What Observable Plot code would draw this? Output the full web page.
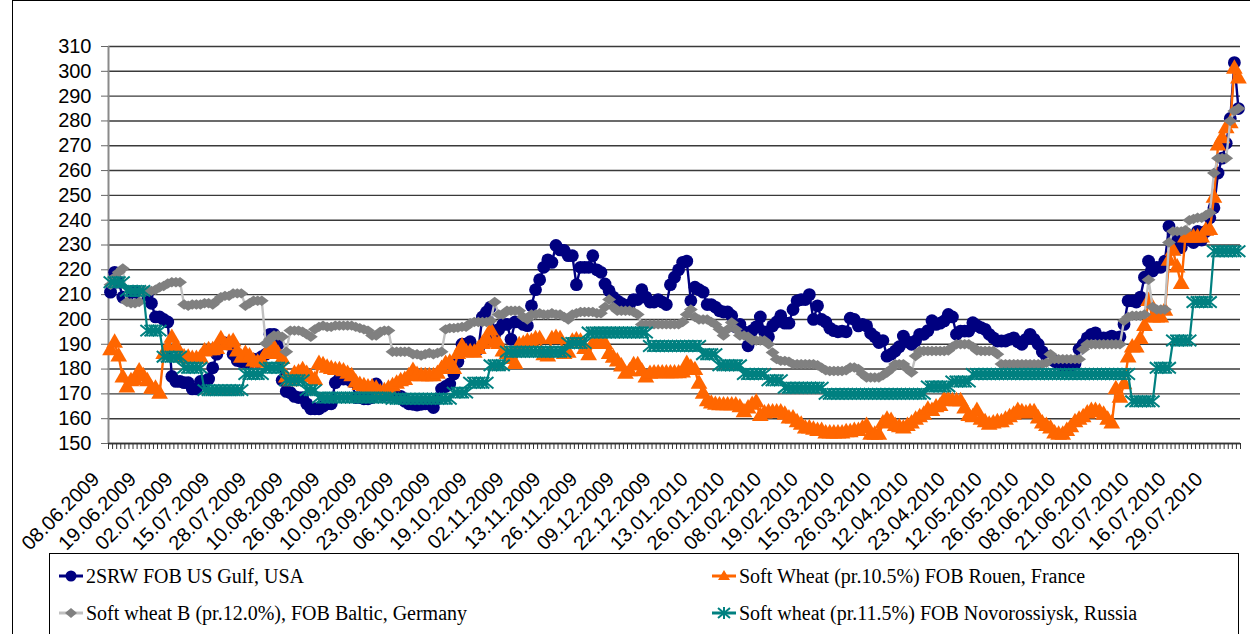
<!DOCTYPE html>
<html><head><meta charset="utf-8">
<script src="https://cdn.jsdelivr.net/npm/d3@7"></script>
<script src="https://cdn.jsdelivr.net/npm/@observablehq/plot@0.6"></script>
<style>
body{margin:0;background:#fff}
#wrap{position:relative;width:1250px;height:634px;overflow:hidden;background:#fff}
#border{position:absolute;left:12px;top:0;width:1300px;height:700px;border-left:1.5px solid #000;border-top:1px solid #000}
#chart{position:absolute;left:0;top:0}
#legend{position:absolute;left:49px;top:553px;width:1188px;height:84px;border:1.5px solid #000;background:#fff}
.item{position:absolute;display:flex;align-items:center;white-space:nowrap;height:30px;font-family:"Liberation Serif","DejaVu Serif","Times New Roman",serif;font-size:20px;color:#000}
.item span{font-family:"Liberation Serif","DejaVu Serif","Times New Roman",serif}
.item svg{margin-right:3px}
</style></head>
<body>
<div id="wrap"><div id="border"></div><div id="chart"></div><div id="legend"></div></div>
<script>
const seriesNames = ["2SRW FOB US Gulf, USA", "Soft Wheat (pr.10.5%) FOB Rouen, France", "Soft wheat B (pr.12.0%), FOB Baltic, Germany", "Soft wheat (pr.11.5%) FOB Novorossiysk, Russia"];

const tickLabels = ["08.06.2009","19.06.2009","02.07.2009","15.07.2009","28.07.2009","10.08.2009","26.08.2009","10.09.2009","23.09.2009","06.10.2009","19.10.2009","02.11.2009","13.11.2009","26.11.2009","09.12.2009","22.12.2009","13.01.2010","26.01.2010","08.02.2010","19.02.2010","15.03.2010","26.03.2010","12.04.2010","23.04.2010","12.05.2010","26.05.2010","08.06.2010","21.06.2010","02.07.2010","16.07.2010","29.07.2010"];
const labelEvery = 9;
const yTicks = [150,160,170,180,190,200,210,220,230,240,250,260,270,280,290,300,310];

const usGulf = [
211,219,215,209,209,211,211,210.5,210,210,
206.5,201,201,200,199,177,175,175,174.5,174.5,
172,172,175,175,176,180.5,186,190,190.5,190,
186,183.5,183,183,182.5,184,183,185,186,194,
194,190,175.5,171,170.5,169,168.5,168.5,166,164,
164,164,165,166,166,174.5,176,176,176,175,
168.5,168.5,168,168,168.5,174,170,169.5,169.5,169.5,
169.5,169,167,166,165.8,165.5,165.8,166,166,164.5,
168,172,173,174,178,183,190,190,191,188,
188,201,203,205,194,196,198,198,192,199,
199,198,197.5,205.5,212,216,221,224,223,229.8,
228,227.8,225.7,225.7,214,221,221,221,225.7,220,
219,214.3,211.6,209,207.5,206.5,205.5,206,208,208,
212,209,207,207,208,207,206,214,217,220,
223,223.5,207.5,213,212,211,206,206,205,203.5,
203,203,201.5,197,198,195,189.4,195.5,197,201,
195,193,197.4,199,201.5,198.5,198.5,204,207.5,208,
208,210,200,205.5,200,199,196.5,195.5,195,195.3,
195,200.5,200,197.4,198,197.4,194.4,193,190.7,191.5,
185.2,186,187.3,189,193.3,191,190,191.4,194,194,
195.5,199.5,198,198.5,199.4,202,201,194,195.3,195.3,
195.3,198.7,197.5,196.7,196,194,192.6,191.3,191.3,191.3,
192,192.6,191,190,192,194,192,190,187,185.2,
184,183.2,182,181,180.5,181,182,188,190,192.6,
194,194.6,192.6,192.6,192.6,193.3,192.6,193,198,207.5,
207.5,207,209,217,223.5,219.5,221,221,223.5,237.5,
234.5,232,229,233,232,231,235.5,232,235.5,241,
245,259,265,271,281,303.5,285];

const rouen = [
187.5,190.5,185,176.5,172.5,175,175.5,179,177,175,
172,172,170,186,188.5,192.5,189,186,184.6,184.5,
184,184,184.5,187,187.5,187.5,188,192,189.5,190.5,
191,187,184.5,186,185,183,182.5,183,186,187.5,
188.5,186,184,176.5,175,178,178.5,179.5,178,176.5,
175.5,182,181.5,180.5,180,179.5,179.5,179,178,177,
174.5,173.5,173,172.5,172.5,172,170.5,171,172,173,
174,175,175.5,177,179.2,177.5,177,177,177,177,
178,180,182,182.5,180,186,189,186.7,186.7,186.5,
188,190,192,195.5,190.5,190,187,186,184,182,
189.5,190,191,191,192,192,185.5,185,192,192.5,
192,186,186.5,191,191.5,191,188,185.5,190,190,
190,190,186,184.5,183,181,178,179,181.5,181.5,
179,176.5,178,178.2,178.2,178.2,178.2,178.2,178.2,178.2,
178.5,182,180.5,179.5,174,170,167,166,165.5,165.3,
165.3,165.3,165.3,165.3,164.5,162.5,164,165.5,166.5,161,
162,162.4,162.4,162.4,162.4,161.5,160,160,158.5,157.5,
156,156,155.5,155,155,154,154,154,154,154,
154.5,154.5,155,155,156,157,153.5,153.5,153.5,158,
159.5,159,157,156.5,156,157,158,159.5,160.5,161.5,
163.5,163,164.5,165,167.5,167.5,167,167,167,164,
161,160.5,163,159.5,158.5,157.5,158,158.5,158.5,159.5,
160.5,161.5,163,162.5,162,162.5,162.5,160,158,157,
156,154,153.5,153.5,155,156.5,158.5,159.5,160.5,162,
163,163,162.5,161.5,159.5,158,171.8,168.4,173.8,184.6,
188.6,188.6,192,197.3,207.4,200.7,200.7,200.7,203.4,223.6,
227.6,220.9,214.2,233,233,233,233,233,235.7,236,
249,270,273,277,279,301,297];

const baltic = [
214,217,219,220.5,207,206.5,206.5,207,211.5,211.5,
211.5,212,213,213.5,214.5,215,215,215,206,205.5,
206,206,206,206.5,206.5,206,207.5,209,209.5,209.5,
210.5,210.5,210.5,205.5,206.5,207.5,207.5,207.5,190.3,192,
193.5,193.5,193,187,195.5,195.5,195.5,195,194,193,
196,197,197.5,197,197,197.5,197.5,197.5,197.5,197.5,
197,196.5,196,195.5,193.5,193.5,195,195.5,195.5,187,
187,187,187,187,186,186,185.5,186,186.5,186,
186.5,187,196,196.5,196.5,196.7,197,197,198.5,199,
199,199,199,199.5,207,202,202,203.5,203.5,203.5,
203.5,201,200,202,202,202.5,202,202,202.5,202,
202,201,200,202,202.5,203,203,203,203,202.5,
202.5,205,208,205,203.5,203.5,203.5,203.5,203,202,
198,198,198,198,198,198,198,198,198,198,
199,202,204,201,200,200,200,199,198,196,
193.5,196,198.8,196,193.5,193.5,193,191.5,191.5,191.5,
191.5,190,186.7,184,183.3,183.3,183,182,182,182,
182,182,182,181.5,180.5,179.5,179.2,179.2,179.2,179.2,
179.5,180.6,180.6,180,178,176.6,176.6,176.6,176.6,177.5,
178.6,180,182,182,182,180,178.6,185.3,187.3,187.3,
187.3,187.3,187.3,187.3,187.3,187.5,189,190,190,190,
190,189,187.5,187.3,187.3,187.3,187.3,186,182,182,
182,182,182,182,182,182,182,182,182,182.5,
186,184,184,184,184,184,184,184,188,190,
190,190,190,190,190,190,190,190,199.5,201,
201.5,201.5,201.5,202,216,205,204,204,204,231,
235.5,235.5,235.5,236,240,240.5,241,241,242,243,
259,265,265,265,280,284,285];

const novorossiysk = [
215,215,215,215,211.5,211.5,211.5,211.5,211.5,195.5,
195.5,195.5,195.5,185,185,185,185,185,180.5,180.5,
180.5,180.5,180.5,171.5,171.5,171.5,171.5,171.5,171.5,171.5,
171.5,171.5,171.5,178,178,178,178,178,180.5,180.5,
180.5,180.5,180.5,175.5,175.5,175.5,175.5,175.5,171.5,171.5,
171.5,168.5,168.5,168.5,168.5,168.5,168.5,168.5,168.5,168.5,
168.5,168.5,168.5,168.5,168.5,168.5,168.5,168.5,168.5,168,
168,168,168,168,168,168,168,168,168,168,
168,168,168,168,170.5,170.5,170.5,170.5,174.5,174.5,
174.5,174.5,174.5,181.5,181.5,181.5,181.5,187,187,187,
187,187,187,187,187,187,187,187,187,187,
187,187,190.5,190.5,190.5,190.5,190.5,194.7,194.7,194.7,
194.7,194.7,194.7,194.7,194.7,194.7,194.7,194.7,194.7,194.7,
194.7,194.7,189.3,189.3,189.3,189.3,189.3,189.3,189.3,189.3,
189.3,189.3,189.3,189.3,189.3,186,186,186,186,181.5,
181.5,181.5,181.5,181.5,181.5,178,178,178,178,178,
178,175.5,175.5,175.5,175.5,172.5,172.5,172.5,172.5,172.5,
172.5,172.5,172.5,172.5,172.5,170,170,170,170,170,
170,170,170,170,170,170,170,170,170,170,
170,170,170,170,170,170,170,170,170,170,
173,173,173,173,173,173,175,175,175,175,
175,178,178,178,178,178,178,178,178,178,
178,178,178,178,178,178,178,178,178,178,
178,178,178,178,178,178,178,178,178,178,
178,178,178,178,178,178,178,178,178,178,
167,167,167,167,167,167,180.5,180.5,180.5,180.5,
191.5,191.5,191.5,191.5,191.5,207,207,207,207,207,
227.5,227.5,227.5,227.5,227.5,227.5,227.5];

// custom marker shapes (Excel-like)
const flatDiamond = {draw(ctx, size) {
  const r = Math.sqrt(size / Math.PI);
  const w = r * 1.2, h = r * 0.9;
  ctx.moveTo(0, -h); ctx.lineTo(w, 0); ctx.lineTo(0, h); ctx.lineTo(-w, 0); ctx.closePath();
}};
const excelStar = {draw(ctx, size) {
  const r = Math.sqrt(size / Math.PI);
  const w = r * 1.15, h = r * 0.95;
  ctx.moveTo(-w, -h); ctx.lineTo(w, h);
  ctx.moveTo(-w, h); ctx.lineTo(w, -h);
  ctx.moveTo(0, -h * 1.05); ctx.lineTo(0, h * 1.05);
}};

const styles = [
  {values: usGulf, line: "#000080", fill: "#000080", stroke: "none", symbol: "circle", r: 6.4, lw: 2.4},
  {values: rouen, line: "#FF6600", fill: "#FF6600", stroke: "none", symbol: "triangle", r: 6.2, lw: 2.4},
  {values: baltic, line: "#C0C0C0", fill: "#808080", stroke: "none", symbol: flatDiamond, r: 5.8, lw: 2.4},
  {values: novorossiysk, line: "#008080", fill: "none", stroke: "#008080", symbol: excelStar, r: 6, lw: 2.2}
];

const N = usGulf.length;
const xDomain = [-0.5, N - 0.5];
const yDomain = [150, 310];
const boundaries = d3.range(N + 1).map(i => i - 0.5);
const labelIdx = tickLabels.map((_, k) => k * labelEvery);

const marks = [
  Plot.gridY(yTicks, {stroke: "#3a3a3a", strokeOpacity: 1, strokeWidth: 1.4}),
  Plot.ruleX([xDomain[0]], {stroke: "#8a8a8a", strokeWidth: 2}),
  Plot.ruleY([yDomain[0]], {stroke: "#333", strokeWidth: 1.5}),
  Plot.axisY({ticks: yTicks, tickSize: 7, tickPadding: 10, fontSize: 20, stroke: "#666", label: null, tickFormat: d => String(d)}),
  Plot.axisX({ticks: boundaries, tickSize: 6, tickFormat: () => "", stroke: "#333", label: null}),
  Plot.text(labelIdx, {x: d => d, y: yDomain[0], text: (d, i) => tickLabels[i], rotate: -45, textAnchor: "end", lineAnchor: "bottom", dx: -10, dy: 37, fontSize: 20, fill: "#000"})
];

styles.forEach((s, k) => {
  const data = s.values.map((v, i) => ({i, v}));
  marks.push(Plot.line(data, {x: "i", y: "v", stroke: s.line, strokeWidth: s.lw}));
  marks.push(Plot.dot(data, {x: "i", y: "v", symbol: s.symbol, r: s.r, fill: s.fill, stroke: s.stroke, strokeWidth: s.stroke === "none" ? 0 : 2}));
});

const chart = Plot.plot({
  width: 1250, height: 550,
  marginLeft: 108, marginRight: 10, marginTop: 46, marginBottom: 107,
  x: {type: "linear", domain: xDomain, label: null},
  y: {domain: yDomain, label: null},
  style: {fontFamily: "'Liberation Sans', Arial, sans-serif", fontSize: "20px", background: "transparent", color: "#000", overflow: "visible"},
  marks
});
document.getElementById("chart").appendChild(chart);

// legend
const legend = document.getElementById("legend");
const pos = [[9, 7], [662, 7], [9, 44], [662, 44]];
const samplePath = [
  '<circle cx="12" cy="10" r="5.5" fill="#000080"/>',
  '<path d="M12,4 L18,14 L6,14 Z" fill="#FF6600"/>',
  '<path d="M12,5 L18,10 L12,15 L6,10 Z" fill="#808080"/>',
  '<path d="M6,5 L18,15 M6,15 L18,5 M12,4 L12,16" stroke="#008080" stroke-width="2" fill="none"/>'
];
seriesNames.forEach((name, k) => {
  const d = document.createElement("div");
  d.className = "item";
  d.style.left = pos[k][0] + "px";
  d.style.top = pos[k][1] + "px";
  d.innerHTML = `<svg width="24" height="20"><line x1="0" y1="10" x2="24" y2="10" stroke="${styles[k].line}" stroke-width="3"/>${samplePath[k]}</svg><span>${name}</span>`;
  legend.appendChild(d);
});
</script>
</body></html>
